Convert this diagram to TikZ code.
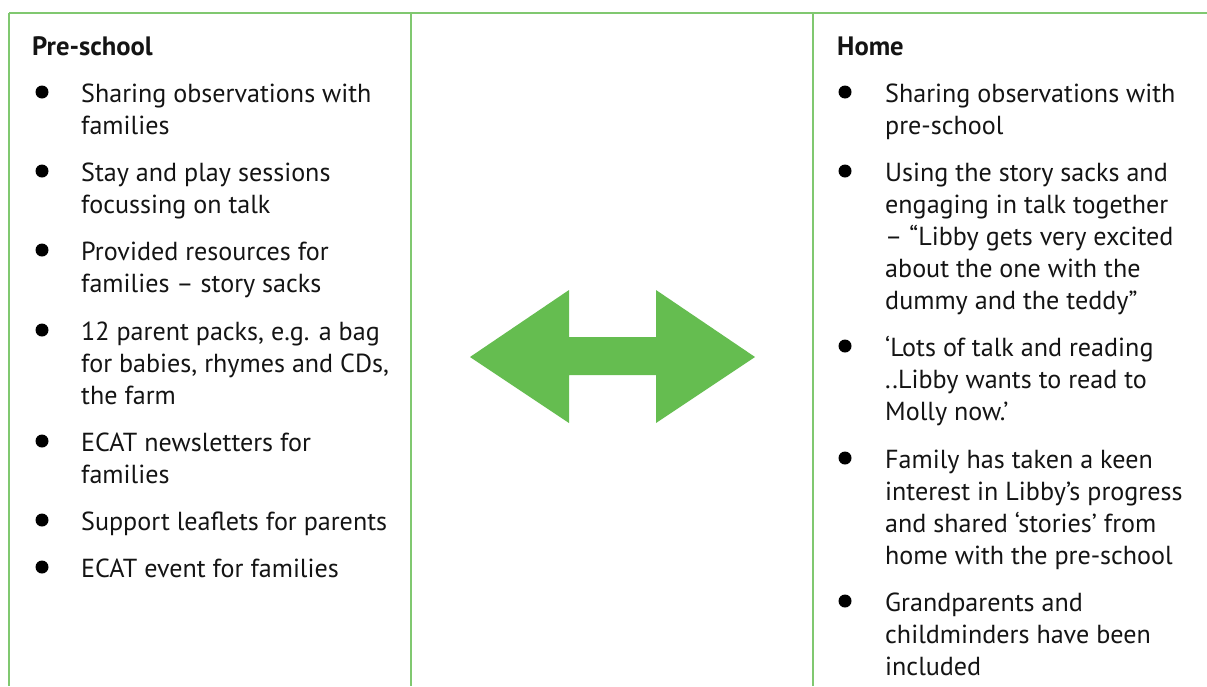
\documentclass[tikz,border=0pt]{standalone}
\usepackage{fontspec}
\setmainfont{PT Sans}
\definecolor{rule}{HTML}{80C870}
\definecolor{arrowgreen}{HTML}{65BD50}
\begin{document}
\begin{tikzpicture}[x=1pt,y=-1pt,
  txt/.style={anchor=base west,inner sep=0pt,font=\fontsize{26.1}{31.7}\selectfont,text=black!92},
  head/.style={txt,font=\fontsize{26.6}{31.7}\selectfont\bfseries},
  blt/.style={circle,fill=black,inner sep=0pt,minimum size=13pt},
  gridline/.style={draw=rule,line width=2pt}]
\useasboundingbox (0,0) rectangle (1207,686);
% grid
\coordinate (tl) at (9,13);
\coordinate (tr) at (1207,13);
\coordinate (b1) at (9,686);
\coordinate (t2) at (411,13);
\coordinate (b2) at (411,686);
\coordinate (t3) at (813,13);
\coordinate (b3) at (813,686);
\draw[gridline] (tl) -- (tr);
\draw[gridline] (tl) -- (b1);
\draw[gridline] (t2) -- (b2);
\draw[gridline] (t3) -- (b3);
% arrow
\fill[arrowgreen] (470,357) -- (569,290) -- (569,337) -- (656,337) -- (656,290) -- (755,357)
  -- (656,423) -- (656,375) -- (569,375) -- (569,423) -- cycle;
% left column
\node[head] (lh) at (32,55) {Pre-school};
\foreach \y in {102,181,260,340,451,530,577} \node[blt] at (42,\y-10) {};
\node[txt] (l1a) at (81,102) {Sharing observations with};
\node[txt] (l1b) at (81,134) {families};
\node[txt] (l2a) at (81,181) {Stay and play sessions};
\node[txt] (l2b) at (81,213) {focussing on talk};
\node[txt] (l3a) at (81,260) {Provided resources for};
\node[txt] (l3b) at (81,292) {families – story sacks};
\node[txt] (l4a) at (81,340) {12 parent packs, e.g. a bag};
\node[txt] (l4b) at (81,372) {for babies, rhymes and CDs,};
\node[txt] (l4c) at (81,404) {the farm};
\node[txt] (l5a) at (81,451) {ECAT newsletters for};
\node[txt] (l5b) at (81,483) {families};
\node[txt] (l6a) at (81,530) {Support leaflets for parents};
\node[txt] (l7a) at (81,577) {ECAT event for families};
% right column
\node[head] (rh) at (837,55) {Home};
\foreach \y in {102,181,356,468,611} \node[blt] at (845,\y-10) {};
\node[txt] (r1a) at (885,102) {Sharing observations with};
\node[txt] (r1b) at (885,134) {pre-school};
\node[txt] (r2a) at (885,181) {Using the story sacks and};
\node[txt] (r2b) at (885,213) {engaging in talk together};
\node[txt] (r2c) at (885,245) {– “Libby gets very excited};
\node[txt] (r2d) at (885,277) {about the one with the};
\node[txt] (r2e) at (885,309) {dummy and the teddy”};
\node[txt] (r3a) at (885,356) {‘Lots of talk and reading};
\node[txt] (r3b) at (885,388) {..Libby wants to read to};
\node[txt] (r3c) at (885,420) {Molly now.’};
\node[txt] (r4a) at (885,468) {Family has taken a keen};
\node[txt] (r4b) at (885,500) {interest in Libby’s progress};
\node[txt] (r4c) at (885,532) {and shared ‘stories’ from};
\node[txt] (r4d) at (885,564) {home with the pre-school};
\node[txt] (r5a) at (885,611) {Grandparents and};
\node[txt] (r5b) at (885,643) {childminders have been};
\node[txt] (r5c) at (885,675) {included};
\end{tikzpicture}
\end{document}
